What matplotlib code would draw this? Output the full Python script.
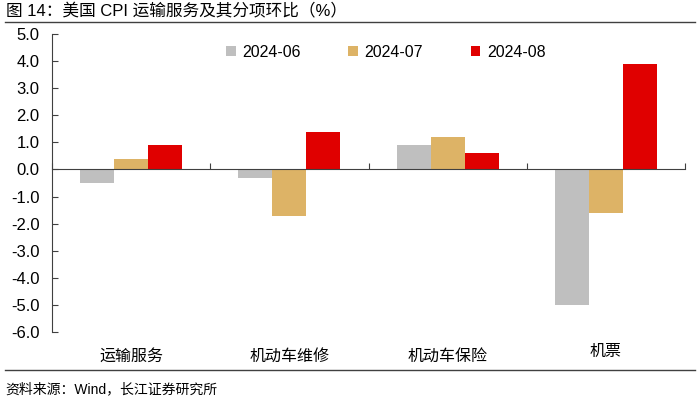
import numpy as np
import matplotlib.pyplot as plt
from matplotlib.lines import Line2D
import matplotlib.transforms as mtransforms

plt.rcParams['font.family'] = ['Liberation Sans', 'Noto Sans CJK SC']
plt.rcParams['axes.unicode_minus'] = False

categories = ['运输服务', '机动车维修', '机动车保险', '机票']
series_names = ['2024-06', '2024-07', '2024-08']
v_2024_06 = [-0.5, -0.3, 0.9, -5.0]
v_2024_07 = [0.4, -1.7, 1.2, -1.6]
v_2024_08 = [0.9, 1.4, 0.6, 3.9]
colors = ['#BFBFBF', '#DDB366', '#E00000']
yticks = np.arange(-6, 5.1, 1.0)

fig = plt.figure(figsize=(7, 4.08), dpi=100)
ax = fig.add_axes([52 / 700, 1 - 332 / 408, 633 / 700, 298 / 408])

x = np.arange(len(categories))
w = 0.215
for i, (vals, name) in enumerate(zip([v_2024_06, v_2024_07, v_2024_08], series_names)):
    ax.bar(x + (i - 1) * w, vals, width=w, color=colors[i], label=name, zorder=2)

ax.set_xlim(-0.5, len(categories) - 0.5)
ax.set_ylim(-6, 5)
ax.set_yticks(yticks)
ax.set_yticklabels([f'{v:.1f}' for v in yticks], fontsize=12)
ax.tick_params(axis='y', direction='in', length=4, width=0.8, color='#404040', pad=9)

# zero line as x axis with ticks at category boundaries
ax.spines['top'].set_visible(False)
ax.spines['right'].set_visible(False)
ax.spines['bottom'].set_position(('data', 0))
ax.spines['bottom'].set_color('#404040')
ax.spines['left'].set_color('#404040')
ax.spines['bottom'].set_zorder(3)
ax.set_xticks(np.arange(-0.5, len(categories), 1.0))
ax.set_xticklabels([])
ax.tick_params(axis='x', direction='in', length=4, width=0.8, color='#404040')

trans = mtransforms.blended_transform_factory(ax.transData, ax.transAxes)
for xi, c in zip(x, categories):
    last = c == '机票'
    ax.text(xi, -0.065 if last else -0.08, c, transform=trans, ha='center', va='center',
            fontsize=11.5, fontweight='medium' if last else 'normal')

ax.legend(loc='upper center', bbox_to_anchor=(0.551, 0.925), bbox_transform=fig.transFigure,
          ncol=3, frameon=False, fontsize=11.5, handlelength=0.6, handleheight=0.6,
          handletextpad=0.4, columnspacing=3.0)

# title and source with rules
fig.text(6 / 700, 1 - 11 / 408, '图 14：美国 CPI 运输服务及其分项环比（%）', fontsize=12, va='center', ha='left')
fig.add_artist(Line2D([5 / 700, 695 / 700], [1 - 22 / 408, 1 - 22 / 408], color='#404040', lw=1))
fig.add_artist(Line2D([5 / 700, 695 / 700], [1 - 370 / 408, 1 - 370 / 408], color='#404040', lw=1))
fig.text(5 / 700, 1 - 389 / 408, '资料来源：Wind，长江证券研究所', fontsize=10, va='center', ha='left')

fig.savefig('out.png', dpi=100)
